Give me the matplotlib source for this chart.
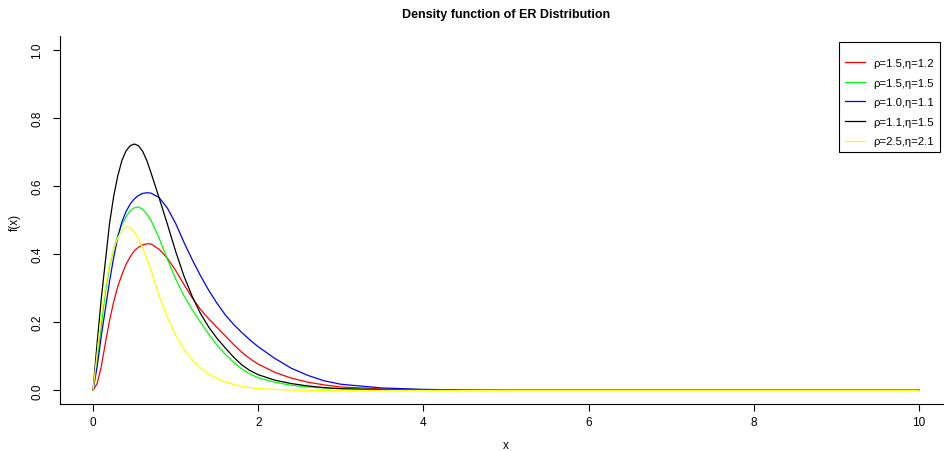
import matplotlib
matplotlib.use("Agg")
import matplotlib.pyplot as plt

plt.rcParams['font.family'] = ['Liberation Sans', 'DejaVu Sans']

# x grid
xs = [0, 0.05, 0.1, 0.15, 0.2, 0.25, 0.3, 0.35, 0.4, 0.45, 0.5, 0.55, 0.6, 0.65, 0.7,
      0.8, 0.9, 1.0, 1.1, 1.2, 1.3, 1.4, 1.5, 1.6, 1.7, 1.8, 1.9, 2.0, 2.2, 2.4, 2.6,
      2.8, 3.0, 3.5, 4.0, 4.5, 5.0, 10.0]

red = [0, 0.02, 0.07, 0.14, 0.205, 0.26, 0.305, 0.34, 0.37, 0.392, 0.41, 0.42, 0.427, 0.43, 0.43,
       0.414, 0.388, 0.352, 0.311, 0.272, 0.238, 0.21, 0.185, 0.16, 0.135, 0.112, 0.093, 0.077, 0.053, 0.036, 0.024,
       0.016, 0.01, 0.004, 0.0015, 0.0005, 0, 0]
green = [0, 0.09, 0.19, 0.29, 0.365, 0.415, 0.455, 0.487, 0.51, 0.527, 0.536, 0.538, 0.532, 0.518, 0.5,
         0.447, 0.385, 0.327, 0.278, 0.237, 0.2, 0.165, 0.133, 0.106, 0.083, 0.063, 0.048, 0.037, 0.024, 0.015, 0.01,
         0.007, 0.005, 0.002, 0.001, 0, 0, 0]
blue = [0, 0.07, 0.16, 0.24, 0.32, 0.39, 0.45, 0.495, 0.525, 0.547, 0.562, 0.572, 0.578, 0.58, 0.579,
        0.566, 0.535, 0.49, 0.435, 0.384, 0.337, 0.294, 0.256, 0.222, 0.194, 0.17, 0.148, 0.128, 0.094, 0.065, 0.044,
        0.028, 0.018, 0.007, 0.003, 0.001, 0, 0]
black = [0, 0.14, 0.27, 0.38, 0.49, 0.57, 0.63, 0.675, 0.703, 0.718, 0.723, 0.718, 0.702, 0.675, 0.64,
         0.565, 0.488, 0.408, 0.336, 0.276, 0.226, 0.186, 0.153, 0.125, 0.098, 0.075, 0.058, 0.046, 0.03, 0.02, 0.013,
         0.008, 0.005, 0.002, 0.001, 0, 0, 0]
yellow = [0, 0.11, 0.22, 0.305, 0.37, 0.415, 0.448, 0.47, 0.48, 0.478, 0.465, 0.445, 0.418, 0.388, 0.354,
          0.277, 0.214, 0.162, 0.121, 0.09, 0.066, 0.048, 0.035, 0.025, 0.018, 0.012, 0.008, 0.005, 0.003, 0.001, 0,
          0, 0, 0, 0, 0, 0, 0]

labels = ['ρ=1.5,η=1.2', 'ρ=1.5,η=1.5', 'ρ=1.0,η=1.1', 'ρ=1.1,η=1.5', 'ρ=2.5,η=2.1']
series = [red, green, blue, black, yellow]
colors = ['#ff0000', '#00ff00', '#0000ff', '#000000', '#ffff00']

fig = plt.figure(figsize=(9.44, 4.52), dpi=100)
ax = fig.add_axes([60 / 944, 47 / 452, 892 / 944, 368 / 452])

for ys, c, lab in zip(series, colors, labels):
    ax.plot(xs, ys, color=c, lw=0.9, label=lab)

ax.set_xlim(-0.4, 10.4)
ax.set_ylim(-0.04, 1.04)
ax.set_xticks([0, 2, 4, 6, 8, 10])
ax.set_yticks([0.0, 0.2, 0.4, 0.6, 0.8, 1.0])
ax.set_yticklabels(['0.0', '0.2', '0.4', '0.6', '0.8', '1.0'], rotation=90, va='center')
ax.tick_params(labelsize=8.5, length=5, width=0.8, direction='out')
ax.tick_params(axis='x', pad=4)
ax.tick_params(axis='y', pad=7)
for s in ['top', 'right']:
    ax.spines[s].set_visible(False)
for s in ['left', 'bottom']:
    ax.spines[s].set_linewidth(0.8)

fig.text(506 / 944, 1 - 446 / 452, 'x', ha='center', va='center', fontsize=8.5)
fig.text(15 / 944, 1 - 222 / 452, 'f(x)', ha='center', va='center', rotation=90, fontsize=8.5)
fig.text(506 / 944, 1 - 15 / 452, 'Density function of ER Distribution', ha='center', va='center',
         fontsize=9, fontweight='bold')

leg = ax.legend(loc='upper right', bbox_to_anchor=(940 / 944, 1 - 43 / 452), bbox_transform=fig.transFigure,
                borderaxespad=0, fontsize=8.1, handlelength=1.75, handletextpad=0.8, labelspacing=0.85,
                borderpad=0.5, title=' ', title_fontsize=1.5, fancybox=False, edgecolor='black', framealpha=1)
leg.get_frame().set_linewidth(0.8)

fig.savefig('out.png', dpi=100)
